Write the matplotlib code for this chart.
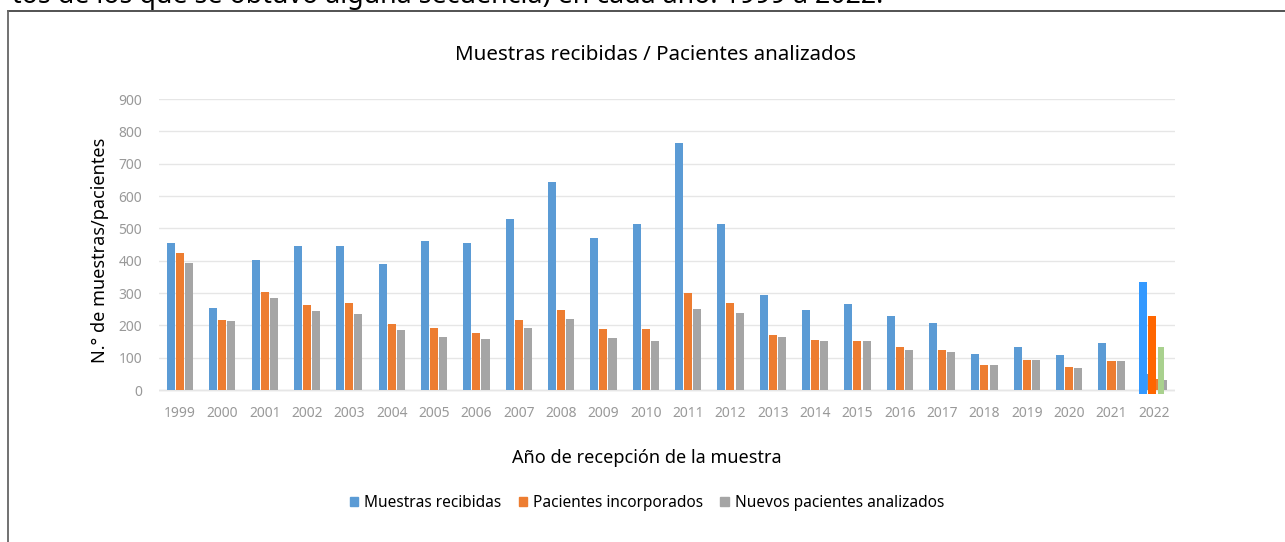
import matplotlib.pyplot as plt
import numpy as np
from matplotlib.lines import Line2D
from matplotlib.patches import Patch

plt.rcParams['font.family'] = ['Noto Sans', 'DejaVu Sans']

years = ['1999', '2000', '2001', '2002', '2003', '2004', '2005', '2006',
         '2007', '2008', '2009', '2010', '2011', '2012', '2013', '2014',
         '2015', '2016', '2017', '2018', '2019', '2020', '2021', '2022']
muestras = [455, 253, 402, 446, 446, 390, 461, 455, 530, 643, 469, 513,
            765, 513, 294, 247, 266, 228, 207, 113, 134, 110, 146, 50]
incorporados = [425, 216, 302, 262, 270, 205, 191, 177, 218, 247, 188, 188,
                301, 270, 170, 155, 153, 133, 125, 78, 93, 72, 91, 35]
nuevos = [393, 214, 284, 244, 235, 185, 165, 158, 193, 220, 160, 152,
          250, 237, 164, 153, 151, 124, 117, 77, 92, 70, 91, 31]
# valores actualizados de 2022 (dibujados encima)
upd_2022 = [334, 230, 132]

yticks = [0, 100, 200, 300, 400, 500, 600, 700, 800, 900]

c_blue, c_orange, c_gray = '#5b9bd5', '#ed7d31', '#a5a5a5'
c_upd = ['#3399ff', '#ff6600', '#a9d18e']

fig = plt.figure(figsize=(12.85, 5.42), dpi=100)
ax = fig.add_axes([0.1236, 0.2712, 0.7908, 0.5461])

x = np.arange(len(years))
w = 0.19
off = 0.215
ax.bar(x - off, muestras, w, color=c_blue, zorder=2)
ax.bar(x, incorporados, w, color=c_orange, zorder=2)
ax.bar(x + off, nuevos, w, color=c_gray, zorder=2)

# barras superpuestas de 2022
i = len(years) - 1
for k, (v, c) in enumerate(zip(upd_2022, c_upd)):
    bw = w if k < 2 else w * 0.8
    ax.bar(i - 0.05 + (k - 1) * off, v + 12, bw, bottom=-12, color=c, zorder=3)

ax.set_xlim(-0.5, len(years) - 0.5)
ax.set_ylim(-15, 900)
ax.set_yticks(yticks)
ax.set_xticks(x)
ax.set_xticklabels(years)
ax.grid(axis='y', color='#e6e6e6', linewidth=1, zorder=0)
ax.axhline(0, color='#e0e0e0', linewidth=1, zorder=1)
for s in ax.spines.values():
    s.set_visible(False)
ax.tick_params(length=0, labelsize=10, labelcolor='#999999')
ax.tick_params(axis='y', pad=12)
ax.tick_params(axis='x', pad=8)

fig.text(0.5105, 0.898, 'Muestras recibidas / Pacientes analizados',
         ha='center', va='center', fontsize=14.8)
fig.text(0.078, 0.539, 'N.° de muestras/pacientes', rotation=90,
         ha='center', va='center', fontsize=13)
fig.text(0.5035, 0.155, 'Año de recepción de la muestra',
         ha='center', va='center', fontsize=13)

handles = [Patch(color=c_blue), Patch(color=c_orange), Patch(color=c_gray)]
labels = ['Muestras recibidas', 'Pacientes incorporados',
          'Nuevos pacientes analizados']
fig.legend(handles, labels, loc='center', bbox_to_anchor=(0.5035, 0.072),
           ncol=3, frameon=False, fontsize=11.1, handlelength=0.55,
           handleheight=0.55, handletextpad=0.4, columnspacing=1.1)

# texto del documento cortado arriba y marco del recuadro
fig.text(0.009, 1 - 3 / 542,
         'tos de los que se obtuvo alguna secuencia) en cada año. 1999 a 2022.',
         ha='left', va='baseline', fontsize=19.3, fontweight='medium')
fig.add_artist(Line2D([8 / 1285, 1], [1 - 11 / 542, 1 - 11 / 542],
                      color='#444444', linewidth=1.3))
fig.add_artist(Line2D([8 / 1285, 8 / 1285], [0, 1 - 11 / 542],
                      color='#666666', linewidth=1.3))

fig.savefig('out.png', dpi=100)
